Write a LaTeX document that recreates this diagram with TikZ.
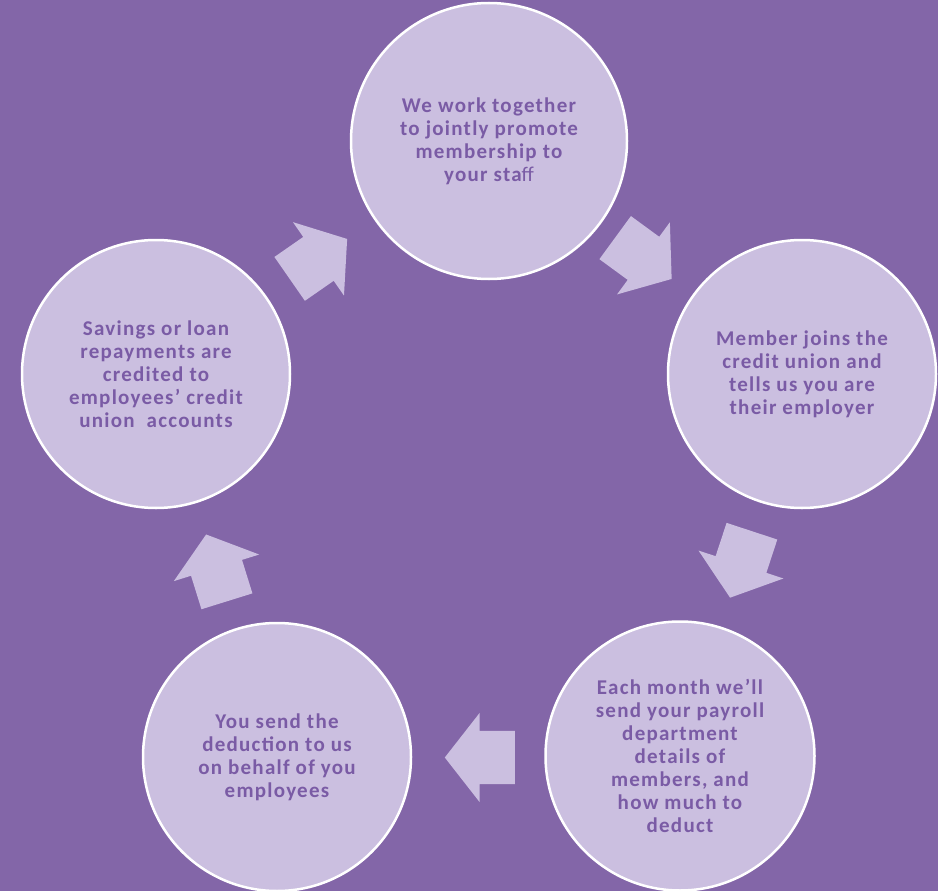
\documentclass[tikz,border=0pt]{standalone}
\usepackage{fontspec}
\setmainfont{Carlito}[LetterSpace=6]
\usetikzlibrary{shapes.geometric, shapes.arrows, positioning}
\definecolor{bgpurple}{HTML}{8366A8}
\definecolor{lilac}{HTML}{CBBFE0}
\definecolor{inkpurple}{HTML}{7A5BA5}
\tikzstyle{stage} = [circle, draw=white, line width=2.5pt, fill=lilac,
    text=inkpurple, align=center, font=\fontsize{21}{23}\selectfont\bfseries]
\tikzstyle{flow} = [single arrow, fill=lilac, draw=none, inner xsep=0pt,
    inner ysep=26.5pt, minimum height=70pt, single arrow head extend=18pt,
    single arrow tip angle=104, anchor=tail]

\begin{document}
\begin{tikzpicture}[x=1pt, y=-1pt]
	\fill [bgpurple] (0,0) rectangle (938,891);
	\useasboundingbox (0,0) rectangle (938,891);
	\node [stage, minimum size=276pt] (Promote) at (489,141)
		{We work together\\to jointly promote\\membership to\\your sta{\mdseries ff}};
	\node [stage, minimum size=268pt] (Joins) at (802,374)
		{Member joins the\\credit union and\\tells us you are\\their employer};
	\node [stage, minimum size=269pt] (Payroll) at (680,756)
		{Each month we’ll\\send your payroll\\department\\details of\\members, and\\how much to\\deduct};
	\node [stage, minimum size=268pt] (Deduction) at (277,757)
		{You send the\\deduction to us\\on behalf of you\\employees};
	\node [stage, minimum size=268pt] (Credited) at (156,374)
		{Savings or loan\\repayments are\\credited to\\employees’ credit\\union\ \ accounts};
	% arrows round the cycle
	\node [flow, rotate=-36.2] (Promote_to_Joins) at (615,237.5) {};
	\node [flow, rotate=-108.2] (Joins_to_Payroll) at (752,531) {};
	\node [flow, rotate=180] (Payroll_to_Deduction) at (515,757.5) {};
	\node [flow, rotate=107.3] (Deduction_to_Credited) at (227,601.5) {};
	\node [flow, rotate=34.8] (Credited_to_Promote) at (289.5,279) {};
\end{tikzpicture}
\end{document}
